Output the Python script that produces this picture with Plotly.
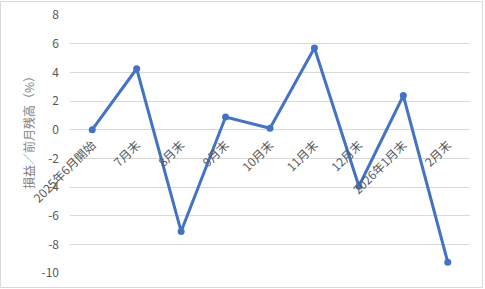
import plotly.graph_objects as go

categories = ["2025年6月開始", "7月末", "8月末", "9月末", "10月末", "11月末", "12月末", "2026年1月末", "2月末"]
values = [0.0, 4.25, -7.1, 0.88, 0.1, 5.7, -3.95, 2.38, -9.25]
y_ticks = [8, 6, 4, 2, 0, -2, -4, -6, -8, -10]
y_title = "損益／前月残高（%）"

W, H = 485, 289
ml, mr, mt, mb = 70, 15, 15, 16
ymin, ymax = -10, 8
font_family = "Noto Sans CJK JP, Noto Sans, sans-serif"

fig = go.Figure()
fig.add_trace(go.Scatter(
    x=categories, y=values, mode="lines+markers",
    line=dict(color="#4472C4", width=3),
    marker=dict(color="#4472C4", size=7),
    cliponaxis=False,
))

fig.update_layout(
    width=W, height=H,
    margin=dict(l=ml, r=mr, t=mt, b=mb, autoexpand=False),
    paper_bgcolor="white", plot_bgcolor="white",
    showlegend=False,
    font=dict(family=font_family, color="#595959", size=12),
    xaxis=dict(
        type="category",
        anchor="free",
        position=(0 - ymin) / (ymax - ymin),
        showgrid=False, showline=False, zeroline=False,
        ticks="", tickangle=-45, automargin=False,
        ticklabelstandoff=5,
        tickfont=dict(size=12, color="#595959"),
        range=[-0.5, len(categories) - 0.5],
    ),
    yaxis=dict(
        range=[ymin, ymax],
        tickvals=y_ticks,
        ticktext=[str(v) for v in y_ticks],
        showgrid=True, gridcolor="#d9d9d9", gridwidth=1,
        zeroline=False, showline=False, automargin=False,
        ticks="", ticklabelstandoff=10,
        tickfont=dict(size=12, color="#595959"),
    ),
    shapes=[dict(type="rect", xref="paper", yref="paper",
                 x0=-ml / (W - ml - mr) + 0.5 / (W - ml - mr),
                 x1=1 + (mr - 2.5) / (W - ml - mr),
                 y0=-(mb - 1.5) / (H - mt - mb),
                 y1=1 + (mt - 1.5) / (H - mt - mb),
                 line=dict(color="#d9d9d9", width=1))],
    annotations=[dict(
        text=y_title, textangle=-90, showarrow=False,
        xref="paper", yref="paper",
        x=-(ml - 28) / (W - ml - mr), y=(H - mb - 130) / (H - mt - mb),
        xanchor="center", yanchor="middle",
        font=dict(size=12, color="#7f7f7f", family=font_family),
    )],
)

fig.write_html("out.html")
